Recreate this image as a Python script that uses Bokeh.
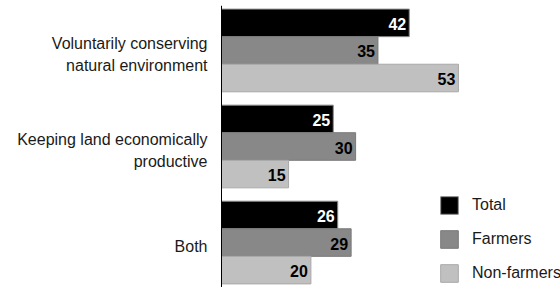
from bokeh.plotting import figure
from bokeh.models import FactorRange, Range1d, ColumnDataSource, Legend, LegendItem, LabelSet, Span
from bokeh.transform import dodge
from bokeh.core.properties import value
from bokeh.embed import file_html
from bokeh.resources import INLINE

categories = ["Voluntarily conserving\nnatural environment",
              "Keeping land economically\nproductive",
              "Both"]
series = ["Total", "Farmers", "Non-farmers"]
total = [42, 25, 26]
farmers = [35, 30, 29]
non_farmers = [53, 15, 20]

FONT = "Liberation Sans"
fills = ["#000000", "#888888", "#c0c0c0"]
lines = ["#8a8a8a", "#7a7a7a", "#a8a8a8"]
label_colors = ["#ffffff", "#000000", "#000000"]
offsets = [0.287, 0.0, -0.287]
bar_h = 0.287
LINE_SPACING = 22
LABEL_SHIFT = 4
PX_PER_UNIT = 4.47

src = ColumnDataSource(dict(cat=categories, Total=total, Farmers=farmers,
                            **{"Non-farmers": non_farmers}))

# one row per text line of each category label, so that every line is right-aligned
ln_cat, ln_text, ln_off = [], [], []
for c in categories:
    parts = c.split("\n")
    n = len(parts)
    for i, t in enumerate(parts):
        ln_cat.append(c)
        ln_text.append(t)
        ln_off.append(-((i - (n - 1) / 2) * LINE_SPACING + LABEL_SHIFT))
ln_src = ColumnDataSource(dict(cat=ln_cat, text=ln_text, off=ln_off, x=[0] * len(ln_cat)))

W, H = 560, 287
AXIS_X = 221
p = figure(width=W, height=H, output_backend="svg", toolbar_location=None,
           y_range=FactorRange(factors=list(reversed(categories)),
                               range_padding=-0.032, range_padding_units="absolute"),
           x_range=Range1d(-AXIS_X / PX_PER_UNIT, (W - AXIS_X) / PX_PER_UNIT),
           min_border_left=0, min_border_right=0, min_border_top=5, min_border_bottom=0)

p.xaxis.visible = False
p.yaxis.visible = False
p.xgrid.visible = False
p.ygrid.visible = False
p.outline_line_color = None
p.background_fill_color = "white"
p.border_fill_color = "white"

# value axis baseline
p.add_layout(Span(location=0, dimension="height", line_color="black", line_width=1))

cat_labels = LabelSet(x="x", y="cat", text="text", source=ln_src, y_offset="off",
                      x_offset=-14, text_align="right", text_baseline="middle",
                      text_font=value(FONT), text_font_size="16px", text_color="#1a1a1a")
p.add_layout(cat_labels)

items = []
for s, fc, lc, tc, off in zip(series, fills, lines, label_colors, offsets):
    r = p.hbar(y=dodge("cat", off, range=p.y_range), right=s, left=0, height=bar_h,
               source=src, fill_color=fc, line_color=lc, line_width=1)
    p.text(x=s, y=dodge("cat", off, range=p.y_range), text=s, source=src,
           text_align="right", text_baseline="middle", x_offset=-3, y_offset=1,
           text_font=value(FONT), text_font_size="16px", text_font_style="bold",
           text_color=tc)
    items.append(LegendItem(label=s, renderers=[r]))

legend = Legend(items=items, location=(AXIS_X + 217, 3), orientation="vertical",
                glyph_width=22, glyph_height=22, spacing=12, padding=0, margin=0,
                label_standoff=12, label_text_font=FONT, label_text_font_size="16px",
                label_text_color="#1a1a1a", border_line_color=None,
                background_fill_alpha=0, label_height=20)
p.add_layout(legend)

open("out.html", "w").write(file_html(p, INLINE))
